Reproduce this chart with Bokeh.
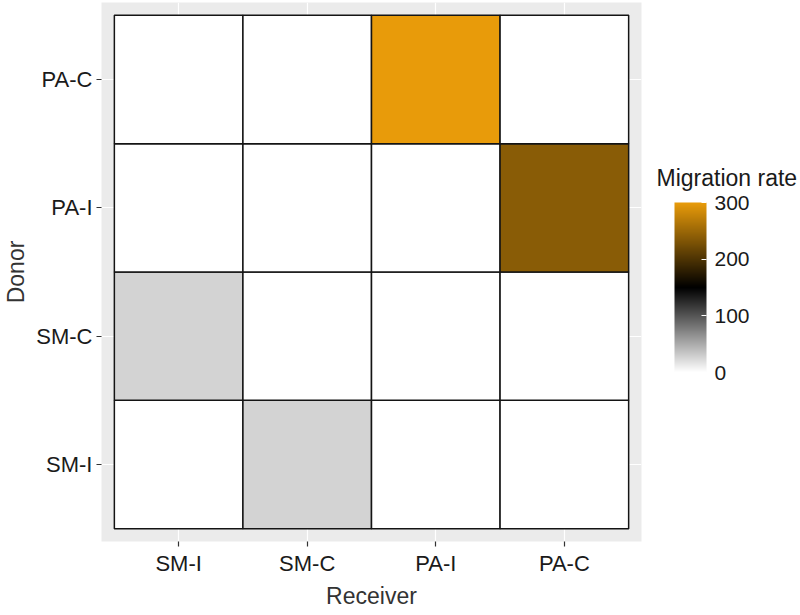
from bokeh.plotting import figure
from bokeh.models import (ColumnDataSource, LinearColorMapper, ColorBar, FixedTicker,
                          FactorRange)
from bokeh.embed import file_html
from bokeh.resources import INLINE

# ---- data ----
receivers = ["SM-I", "SM-C", "PA-I", "PA-C"]
donors = ["SM-I", "SM-C", "PA-I", "PA-C"]
# migration rate, rows = donor, columns = receiver
rate_donor_SM_I = [0, 26, 0, 0]
rate_donor_SM_C = [26, 0, 0, 0]
rate_donor_PA_I = [0, 0, 0, 239]
rate_donor_PA_C = [0, 0, 300, 0]
legend_ticks = [0, 100, 200, 300]

rows = {"SM-I": rate_donor_SM_I, "SM-C": rate_donor_SM_C,
        "PA-I": rate_donor_PA_I, "PA-C": rate_donor_PA_C}
xs, ys, vals = [], [], []
for d in donors:
    for r, v in zip(receivers, rows[d]):
        xs.append(r); ys.append(d); vals.append(v)
src = ColumnDataSource(dict(receiver=xs, donor=ys, rate=vals))

# ---- colour scale: white -> black -> orange ----
vmax = max(vals)
stops = [(0.0, (255, 255, 255)), (0.5, (0, 0, 0)), (1.0, (232, 155, 10))]
palette = []
N = 256
for i in range(N):
    t = i / (N - 1)
    for (t0, c0), (t1, c1) in zip(stops[:-1], stops[1:]):
        if t0 <= t <= t1:
            f = (t - t0) / (t1 - t0)
            c = tuple(int(round(a + (b - a) * f)) for a, b in zip(c0, c1))
            break
    palette.append("#%02x%02x%02x" % c)
mapper = LinearColorMapper(palette=palette, low=0, high=vmax)

FONT = "Liberation Sans"

p = figure(width=798, height=612, output_backend="svg", toolbar_location=None,
           x_range=FactorRange(factors=receivers, range_padding=0.1, range_padding_units="absolute"),
           y_range=FactorRange(factors=donors, range_padding=0.1, range_padding_units="absolute"),
           min_border_left=100, min_border_right=157, min_border_top=2, min_border_bottom=71)
p.background_fill_color = "#EBEBEB"
p.outline_line_color = None
p.border_fill_color = "white"

p.rect(x="receiver", y="donor", width=1, height=1, source=src,
       fill_color={"field": "rate", "transform": mapper},
       line_color="#141414", line_width=1.5)

for ax in (p.xaxis[0], p.yaxis[0]):
    ax.axis_line_color = None
    ax.major_tick_line_color = "#333333"
    ax.major_tick_line_width = 1.2
    ax.major_tick_out = 5
    ax.major_tick_in = 0
    ax.major_label_text_font = FONT
    ax.major_label_text_font_size = "22px"
    ax.major_label_text_color = "#1a1a1a"
    ax.axis_label_text_font = FONT
    ax.axis_label_text_font_size = "23px"
    ax.axis_label_text_font_style = "normal"
    ax.axis_label_text_color = "#333333"
    ax.axis_label_standoff = 4
p.xaxis.axis_label = "Receiver"
p.yaxis.axis_label = "Donor"
p.xaxis.major_label_standoff = 4
p.yaxis.major_label_standoff = 4

p.xgrid.grid_line_color = "white"
p.ygrid.grid_line_color = "white"
p.xgrid.grid_line_width = 1.2
p.ygrid.grid_line_width = 1.2

cb = ColorBar(color_mapper=mapper, ticker=FixedTicker(ticks=legend_ticks),
              width=32, height=170, location=(573, 169),
              title=None,
              major_label_text_font=FONT, major_label_text_font_size="21px",
              major_label_text_color="#1a1a1a",
              major_tick_line_color="white", major_tick_line_width=1.2,
              major_tick_in=5, major_tick_out=0,
              bar_line_color=None, border_line_color=None, background_fill_color=None,
              padding=0, margin=0, label_standoff=8)
p.add_layout(cb, "center")

# legend title: carried by a transparent colour bar so it can sit left of the bar
title_cb = ColorBar(color_mapper=mapper, ticker=FixedTicker(ticks=[]),
                    orientation="horizontal",
                    width=2, height=1, location=(555, 350), scale_alpha=0,
                    title="Migration rate", title_text_font=FONT, title_text_font_size="23px",
                    title_text_font_style="normal", title_text_color="#1a1a1a",
                    title_standoff=0, major_tick_line_color=None, minor_tick_line_color=None,
                    major_label_text_alpha=0, label_standoff=0,
                    bar_line_color=None, border_line_color=None, background_fill_color=None,
                    padding=0, margin=0)
p.add_layout(title_cb, "center")

open("out.html", "w").write(file_html(p, INLINE))
